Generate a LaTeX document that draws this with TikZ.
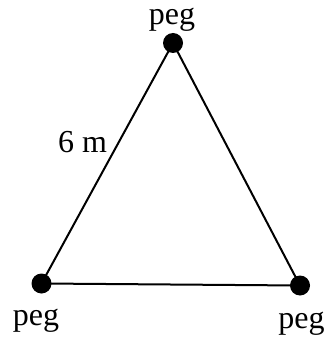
\documentclass[tikz,border=0pt]{standalone}
\usepackage{fontspec}
\setmainfont{Liberation Serif}
\begin{document}
\begin{tikzpicture}[x=0.75pt,y=-0.75pt,
  peg/.style={circle,fill=black,inner sep=0pt,minimum size=15pt},
  lbl/.style={inner sep=0pt,anchor=base,font=\fontsize{24pt}{28pt}\selectfont},
  side/.style={line width=1.5pt}]
\useasboundingbox (0,0) rectangle (328,338);
\node[peg] (t) at (173,43) {};
\node[peg] (l) at (41.5,283.5) {};
\node[peg] (r) at (300,285.5) {};
\draw[side] (t.center) -- (l.center) -- (r.center) -- cycle;
\node[lbl] (lt) at (172,25) {peg};
\node[lbl] (ll) at (36,325) {peg};
\node[lbl] (lr) at (301.5,328) {peg};
\node[lbl] (len) at (82.5,152) {6 m};
\end{tikzpicture}
\end{document}
